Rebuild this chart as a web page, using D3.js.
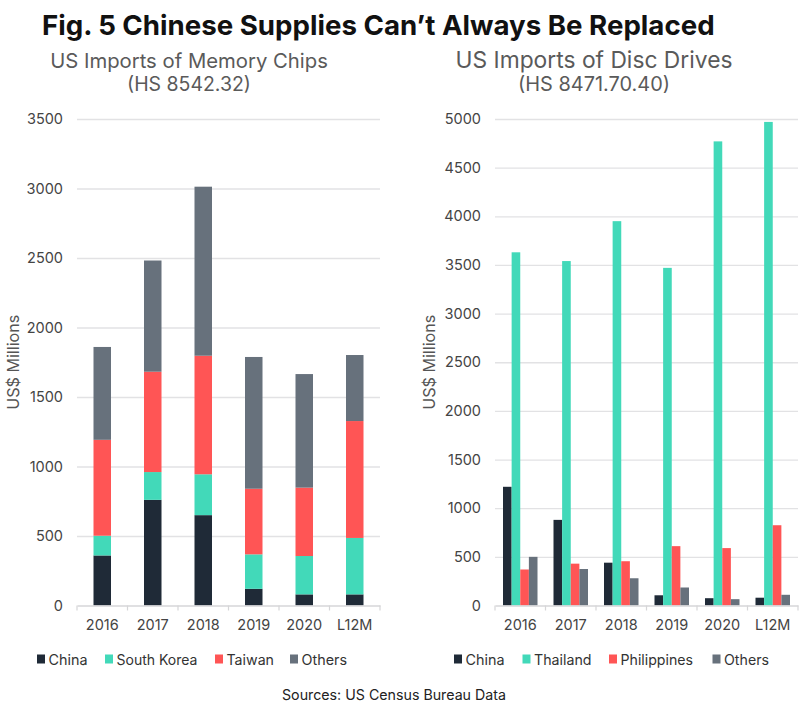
<!DOCTYPE html>
<html>
<head>
<meta charset="utf-8">
<script src="https://cdn.jsdelivr.net/npm/d3@7/dist/d3.min.js"></script>
<style>
  body { margin: 0; background: #fff; }
  svg text { font-family: Inter, "Noto Sans", sans-serif; }
</style>
</head>
<body>
<svg id="chart" width="800" height="710"></svg>
<script>
// categories
const years = ["2016", "2017", "2018", "2019", "2020", "L12M"];

// memory chips (stacked)
const chipSeries = ["China", "South Korea", "Taiwan", "Others"];
const chipChina = [360, 760, 650, 120, 80, 80];
const chipKorea = [142, 200, 294, 248, 276, 406];
const chipTaiwan = [690, 722, 853, 472, 492, 841];
const chipOthers = [668, 800, 1216, 948, 817, 475];
const chipTicks = [0, 500, 1000, 1500, 2000, 2500, 3000, 3500];

// disc drives (grouped)
const discSeries = ["China", "Thailand", "Philippines", "Others"];
const discChina = [1220, 880, 440, 105, 75, 80];
const discThailand = [3630, 3540, 3950, 3470, 4770, 4970];
const discPhilippines = [370, 430, 455, 610, 590, 825];
const discOthers = [500, 375, 280, 185, 65, 110];
const discTicks = [0, 500, 1000, 1500, 2000, 2500, 3000, 3500, 4000, 4500, 5000];

const colors = ["#1f2a37", "#42d9b9", "#ff5555", "#67717c"];

const svg = d3.select("#chart");

// fit a text element to a target width by changing font size
function fitWidth(sel, w) {
  const node = sel.node();
  const fs = parseFloat(sel.attr("font-size"));
  const len = node.getComputedTextLength();
  sel.attr("font-size", (fs * w / len).toFixed(2));
}

// title
svg.append("text")
  .attr("x", 42).attr("y", 35)
  .attr("font-size", 27).attr("font-weight", 700).attr("fill", "#111")
  .text("Fig. 5 Chinese Supplies Can\u2019t Always Be Replaced")
  .call(fitWidth, 673);

// sources
svg.append("text")
  .attr("x", 394).attr("y", 700).attr("text-anchor", "middle")
  .attr("font-size", 13).attr("fill", "#222")
  .text("Sources: US Census Bureau Data")
  .call(fitWidth, 224);

const plotTop = 119, plotBottom = 605.5;

function panel(opts) {
  const g = svg.append("g");

  // subtitles
  g.append("text").attr("x", opts.titleX).attr("y", 68).attr("text-anchor", "middle")
    .attr("font-size", 20).attr("fill", "#5a5a5a").text(opts.title1).call(fitWidth, opts.title1W);
  g.append("text").attr("x", opts.titleX).attr("y", 91).attr("text-anchor", "middle")
    .attr("font-size", 20).attr("fill", "#5a5a5a").text(opts.title2).call(fitWidth, opts.title2W);

  const x = d3.scaleBand().domain(years).range([opts.left, opts.right]);
  const y = d3.scaleLinear().domain([0, opts.max]).range([plotBottom, plotTop]);

  // y axis with gridlines
  const yAxis = d3.axisLeft(y).tickValues(opts.ticks).tickFormat(d3.format("d"))
    .tickSize(-(opts.right - opts.left)).tickPadding(14);
  const ya = g.append("g").attr("transform", `translate(${opts.left},0)`).call(yAxis);
  ya.select(".domain").remove();
  ya.selectAll(".tick line").attr("stroke", "#e2e2e4").attr("stroke-width", 1.3);
  ya.selectAll(".tick text").attr("font-size", 14.5).attr("fill", "#444")
    .attr("font-family", "Inter, sans-serif");
  ya.selectAll(".tick").filter(d => d === 0).select("line").remove();

  // y label
  g.append("text")
    .attr("transform", `translate(${opts.labelX},${(plotTop + plotBottom) / 2}) rotate(-90)`)
    .attr("text-anchor", "middle").attr("font-size", 15.5).attr("fill", "#555")
    .text("US$ Millions").call(fitWidth, 95);

  opts.drawBars(g, x, y);

  // x axis
  const xa = g.append("g").attr("transform", `translate(0,${plotBottom})`)
    .call(d3.axisBottom(x).tickSize(0).tickPadding(14));
  xa.select(".domain").attr("stroke", "#d6d6d8").attr("stroke-width", 1.3);
  xa.selectAll(".tick text").attr("font-size", 14.5).attr("fill", "#444")
    .attr("font-family", "Inter, sans-serif");
  // separator ticks between categories
  const seps = d3.range(years.length + 1).map(i => opts.left + i * x.step());
  xa.selectAll(".sep").data(seps).join("line").attr("class", "sep")
    .attr("x1", d => d).attr("x2", d => d).attr("y1", 0).attr("y2", 5)
    .attr("stroke", "#d6d6d8").attr("stroke-width", 1.2);

  // legend
  const lg = g.append("g");
  opts.series.forEach((s, i) => {
    lg.append("rect").attr("x", opts.legendX[i]).attr("y", 654.5).attr("width", 8).attr("height", 9)
      .attr("fill", colors[i]);
    lg.append("text").attr("x", opts.legendX[i] + 11.5).attr("y", 665).attr("font-size", 14.5)
      .attr("fill", "#333").text(s).call(fitWidth, opts.legendW[i]);
  });
}

// left: stacked memory chips
panel({
  left: 77, right: 380, max: 3500, ticks: chipTicks,
  titleX: 189, title1: "US Imports of Memory Chips", title1W: 278,
  title2: "(HS 8542.32)", title2W: 124,
  labelX: 19,
  series: chipSeries,
  legendX: [37, 105, 215, 290], legendW: [39, 81, 47.5, 45.5],
  drawBars(g, x, y) {
    const rows = years.map((yr, i) => ({
      year: yr, "China": chipChina[i], "South Korea": chipKorea[i],
      "Taiwan": chipTaiwan[i], "Others": chipOthers[i]
    }));
    const stacked = d3.stack().keys(chipSeries)(rows);
    const bw = 17.5;
    g.selectAll(".layer").data(stacked).join("g").attr("class", "layer")
      .attr("fill", (d, i) => colors[i])
      .selectAll("rect").data(d => d).join("rect")
      .attr("x", d => x(d.data.year) + x.bandwidth() / 2 - bw / 2)
      .attr("width", bw)
      .attr("y", d => y(d[1]))
      .attr("height", d => y(d[0]) - y(d[1]));
  }
});

// right: grouped disc drives
panel({
  left: 495, right: 798, max: 5000, ticks: discTicks,
  titleX: 594, title1: "US Imports of Disc Drives", title1W: 277,
  title2: "(HS 8471.70.40)", title2W: 152,
  labelX: 435,
  series: discSeries,
  legendX: [454, 522.5, 609, 712.5], legendW: [39, 57.5, 72.5, 45],
  drawBars(g, x, y) {
    const data = [discChina, discThailand, discPhilippines, discOthers];
    const inner = d3.scaleBand().domain(discSeries)
      .range([0, 34.5]);
    const groups = g.selectAll(".grp").data(years).join("g").attr("class", "grp")
      .attr("transform", d => `translate(${x(d) + x.bandwidth() / 2 - 17.25},0)`);
    groups.selectAll("rect").data((yr, i) => discSeries.map((s, j) => ({ s, j, v: data[j][i] })))
      .join("rect")
      .attr("x", d => inner(d.s))
      .attr("width", inner.bandwidth())
      .attr("y", d => y(d.v))
      .attr("height", d => plotBottom - y(d.v))
      .attr("fill", d => colors[d.j]);
  }
});
</script>
</body>
</html>
